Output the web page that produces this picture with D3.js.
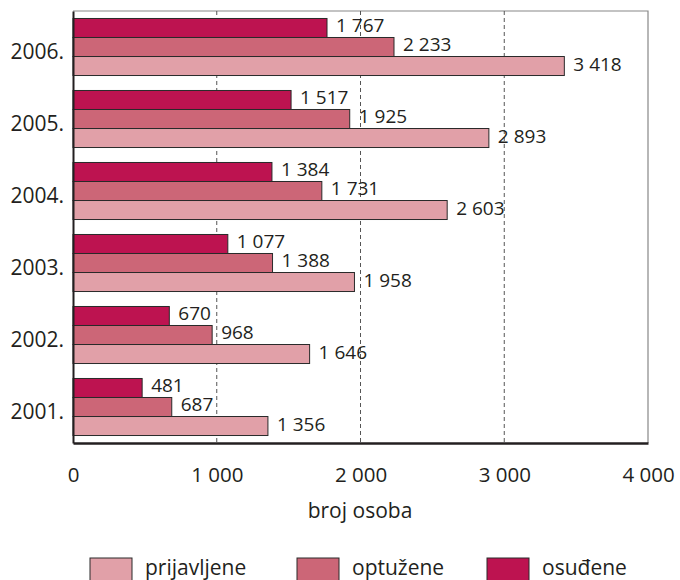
<!DOCTYPE html>
<html><head><meta charset="utf-8">
<script src="https://cdn.jsdelivr.net/npm/d3@7"></script>
<style>body{margin:0;background:#fff}svg{display:block}</style>
</head><body>
<svg id="c" width="680" height="580"></svg>
<script>
const years = ["2001.", "2002.", "2003.", "2004.", "2005.", "2006."];
const prijavljene = [1356, 1646, 1958, 2603, 2893, 3418];
const optuzene = [687, 968, 1388, 1731, 1925, 2233];
const osudjene = [481, 670, 1077, 1384, 1517, 1767];
const seriesNames = ["prijavljene", "optužene", "osuđene"];
const seriesColors = ["#e1a0a8", "#cc6677", "#bd1350"];
const xTicks = [0, 1000, 2000, 3000, 4000];

const font = "'Open Sans', 'Noto Sans', sans-serif";
const svg = d3.select("#c");
const L = 73, R = 648, T = 11, B = 443;
const x = d3.scaleLinear().domain([0, 4000]).range([L, R]);
const yOrder = years.slice().reverse();
const y = d3.scaleBand().domain(yOrder).range([T, B]).paddingInner(0.208).paddingOuter(0.104);
// inner order top-to-bottom: osuđene, optužene, prijavljene
const sub = d3.scaleBand().domain([2, 1, 0]).range([0, y.bandwidth()]);
const fmt = v => d3.format(",")(v).replace(/,/g, " ");

// frame top/right
svg.append("path").attr("d", `M${L},${T}H${R}V${B}`).attr("fill", "none").attr("stroke", "#888").attr("stroke-width", 1.2);
// gridlines
svg.append("g").selectAll("line").data(xTicks.filter(d => d > 0 && d < 4000)).join("line")
  .attr("x1", d => x(d)).attr("x2", d => x(d)).attr("y1", T).attr("y2", B)
  .attr("stroke", "#555").attr("stroke-width", 1).attr("stroke-dasharray", "4,3");

const data = [prijavljene, optuzene, osudjene];
const g = svg.append("g");
years.forEach((yr, i) => {
  data.forEach((arr, s) => {
    const y0 = y(yr) + sub(s);
    g.append("rect").attr("x", x(0)).attr("y", y0).attr("width", x(arr[i]) - x(0)).attr("height", sub.bandwidth())
      .attr("fill", seriesColors[s]).attr("stroke", "#2a2a2a").attr("stroke-width", 1);
    g.append("text").attr("x", x(arr[i]) + 9).attr("y", y0 + 14).text(fmt(arr[i]))
      .attr("font-family", font).attr("font-size", 19).attr("fill", "#231f20");
  });
});

// axes
const xAxis = d3.axisBottom(x).tickValues(xTicks).tickFormat(fmt).tickSize(0).tickPadding(24);
const xa = svg.append("g").attr("transform", `translate(0,${B})`).call(xAxis);
xa.select(".domain").attr("stroke", "#231f20").attr("stroke-width", 2.5);
xa.selectAll("text").attr("font-family", font).attr("font-size", 20.5).attr("fill", "#231f20");

const yAxis = d3.axisLeft(y).tickSize(0).tickPadding(9);
const ya = svg.append("g").attr("transform", `translate(${L},0)`).call(yAxis);
ya.select(".domain").attr("stroke", "#231f20").attr("stroke-width", 2);
ya.selectAll("text").attr("font-family", font).attr("font-size", 21).attr("fill", "#231f20").attr("dy", "0.55em");

svg.append("text").attr("x", 360).attr("y", 518).attr("text-anchor", "middle").text("broj osoba")
  .attr("font-family", font).attr("font-size", 21).attr("fill", "#231f20");

// legend
const legX = [90, 297, 487];
seriesNames.forEach((n, s) => {
  svg.append("rect").attr("x", legX[s]).attr("y", 558).attr("width", 42).attr("height", 28)
    .attr("fill", seriesColors[s]).attr("stroke", "#2a2a2a").attr("stroke-width", 1);
  svg.append("text").attr("x", legX[s] + 55).attr("y", 575).text(n)
    .attr("font-family", font).attr("font-size", 21).attr("fill", "#231f20");
});
</script>
</body></html>
